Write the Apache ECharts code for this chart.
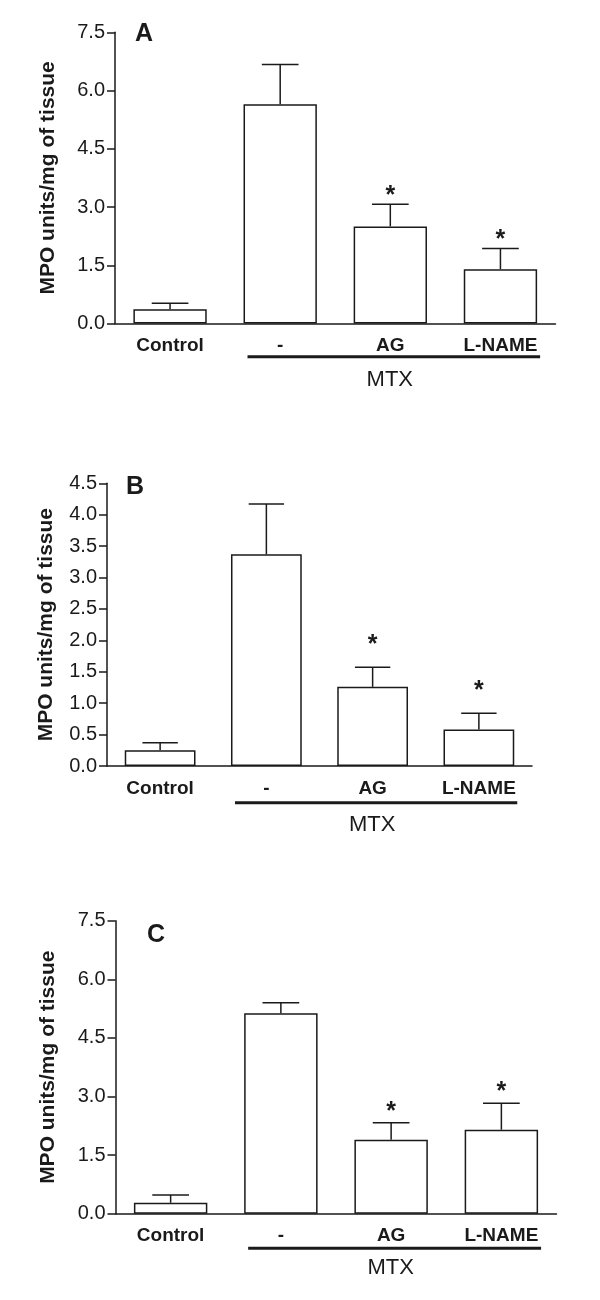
<!DOCTYPE html>
<html>
<head>
<meta charset="utf-8">
<script src="https://cdn.jsdelivr.net/npm/echarts@6/dist/echarts.min.js"></script>
<style>
html,body{margin:0;padding:0;background:#fff;}
#chart{width:600px;height:1300px;}
</style>
</head>
<body>
<div id="chart"></div>
<script>
// ---- data ----
const categories = ['Control', '-', 'AG', 'L-NAME'];
const groupLabel = 'MTX';
const yTitle = 'MPO units/mg of tissue';
const panelLetters = ['A', 'B', 'C'];

const meanA = [0.37, 5.65, 2.50, 1.40];
const semA  = [0.15, 1.02, 0.57, 0.53];
const sigA  = [0, 0, 1, 1];

const meanB = [0.25, 3.37, 1.26, 0.58];
const semB  = [0.12, 0.80, 0.31, 0.26];
const sigB  = [0, 0, 1, 1];

const meanC = [0.28, 5.13, 1.89, 2.15];
const semC  = [0.20, 0.27, 0.44, 0.68];
const sigC  = [0, 0, 1, 1];

const yMax  = [7.5, 4.5, 7.5];
const yStep = [1.5, 0.5, 1.5];

// ---- layout / style ----
const FONT = '"Liberation Sans", Arial, Helvetica, sans-serif';
const INK = '#1a1a1a';
const panels = [
  {mean: meanA, sem: semA, sig: sigA, grid: {left: 115, right: 44.5, top: 32.3, height: 291.2}, nameGap: 56, starOff: 14, lineOff: 33.2, textOff: 56.5, letter: {left: 135, top: 22}},
  {mean: meanB, sem: semB, sig: sigB, grid: {left: 107, right: 68, top: 483.3, height: 282.7}, nameGap: 50, starOff: 28, lineOff: 36.7, textOff: 59, letter: {left: 126, top: 475}},
  {mean: meanC, sem: semC, sig: sigC, grid: {left: 115.5, right: 43.5, top: 920.7, height: 293}, nameGap: 57, starOff: 17, lineOff: 34.6, textOff: 54.6, letter: {left: 147, top: 923}}
];

const chart = echarts.init(document.getElementById('chart'), null, {renderer: 'canvas'});

const grids = [], xAxes = [], yAxes = [], series = [], titles = [];
panels.forEach((p, k) => {
  grids.push(Object.assign({containLabel: false}, p.grid));
  xAxes.push({
    type: 'category', gridIndex: k, data: categories,
    axisLine: {show: true, lineStyle: {color: INK, width: 1.5}},
    axisTick: {show: false},
    axisLabel: {fontFamily: FONT, fontWeight: 'bold', fontSize: 19, color: INK, margin: 13, interval: 0},
    splitLine: {show: false}
  });
  yAxes.push({
    type: 'value', gridIndex: k, min: 0, max: yMax[k], interval: yStep[k],
    name: yTitle, nameLocation: 'middle', nameGap: p.nameGap, nameRotate: 90,
    nameTextStyle: {fontFamily: FONT, fontWeight: 'bold', fontSize: 21, color: INK},
    axisLine: {show: true, lineStyle: {color: INK, width: 1.5}},
    axisTick: {show: true, inside: false, length: 8, lineStyle: {color: INK, width: 1.5}},
    axisLabel: {fontFamily: FONT, fontSize: 20, color: INK, margin: 10, formatter: v => v.toFixed(1)},
    splitLine: {show: false}
  });
  series.push({
    type: 'bar', xAxisIndex: k, yAxisIndex: k, data: p.mean,
    barWidth: '66.6%',
    itemStyle: {color: '#ffffff', borderColor: INK, borderWidth: 1.5},
    silent: true, animation: false, z: 2
  });
  const starOff = p.starOff;
  series.push({
    type: 'custom', xAxisIndex: k, yAxisIndex: k,
    data: p.mean.map((m, i) => [i, m, p.sem[i], p.sig[i]]),
    encode: {x: 0, y: 1},
    animation: false, silent: true, z: 3,
    renderItem: function (params, api) {
      const i = api.value(0), m = api.value(1), s = api.value(2), sg = api.value(3);
      const base = api.coord([i, m]);
      const top = api.coord([i, m + s]);
      const bw = api.size([1, 0])[0] * 0.666;
      const cap = bw / 4;
      const st = {stroke: INK, lineWidth: 1.5};
      const children = [
        {type: 'line', shape: {x1: base[0], y1: base[1], x2: top[0], y2: top[1]}, style: st},
        {type: 'line', shape: {x1: top[0] - cap, y1: top[1], x2: top[0] + cap, y2: top[1]}, style: st}
      ];
      if (sg) {
        children.push({type: 'text', x: top[0], y: top[1] - starOff + 6,
          style: {text: '*', font: 'bold 25px ' + FONT, fill: INK, align: 'center', verticalAlign: 'middle'}});
      }
      return {type: 'group', children: children};
    }
  });
  titles.push({text: panelLetters[k], left: p.letter.left, top: p.letter.top, padding: 0,
    textStyle: {fontFamily: FONT, fontWeight: 'bold', fontSize: 25, color: INK}});
});

chart.setOption({
  backgroundColor: '#ffffff',
  animation: false,
  title: titles,
  grid: grids,
  xAxis: xAxes,
  yAxis: yAxes,
  series: series
});

// group underline + label, positioned from the axes' own scales
const graphics = [];
panels.forEach((p, k) => {
  const c1 = chart.convertToPixel({xAxisIndex: k, yAxisIndex: k}, [1, 0]);
  const c3 = chart.convertToPixel({xAxisIndex: k, yAxisIndex: k}, [3, 0]);
  const band = (c3[0] - c1[0]) / 2;
  const half = band * 0.333;
  const x1 = c1[0] - half + 4, x2 = c3[0] + half + 3;
  const y = c1[1] + p.lineOff;
  graphics.push({type: 'line', shape: {x1: x1, y1: y, x2: x2, y2: y}, style: {stroke: INK, lineWidth: 3}, silent: true});
  graphics.push({type: 'text', x: (x1 + x2) / 2 - 4, y: c1[1] + p.textOff,
    style: {text: groupLabel, font: '22px ' + FONT, fill: INK, align: 'center', verticalAlign: 'middle'}, silent: true});
});
chart.setOption({graphic: graphics});
</script>
</body>
</html>
